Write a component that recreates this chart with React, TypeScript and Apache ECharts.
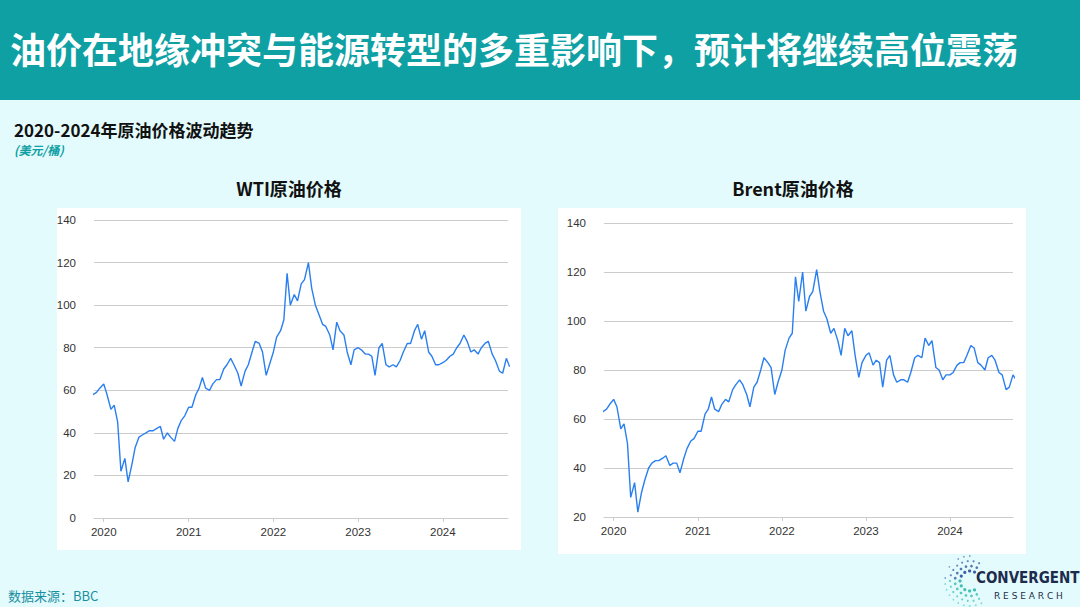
import React, { useEffect, useRef } from "react";
import * as echarts from "echarts";

// two readings per month (1st and 15th), Nov 2019 - Oct 2024
const startMonth = [2019, 10];
const wtiValues = [
  57, 58, 59, 61, 63, 58, 51, 53, 45, 22, 28, 17, 25, 33, 38, 39, 40, 41, 41, 42, 43, 37, 40, 38,
  36, 42, 46, 48, 52, 52, 58, 61, 66, 61, 60, 63, 65, 65, 70, 72, 75, 72, 68, 62, 69, 72, 78, 83,
  82, 78, 67, 72, 78, 85, 88, 93, 115, 100, 105, 102, 110, 112, 120, 108, 100, 96, 91, 90, 86, 79, 92, 88,
  86, 78, 72, 79, 80, 79, 77, 77, 76, 67, 80, 82, 72, 71, 72, 71, 74, 78, 82, 82, 88, 91, 84, 88,
  78, 76, 72, 72, 73, 74, 76, 77, 80, 82, 86, 83, 78, 79, 77, 80, 82, 83, 77, 74, 69, 68, 75, 71,
];
const brentValues = [
  62, 63, 64, 66, 68, 65, 56, 58, 50, 28, 34, 22, 30, 35, 40, 42, 43, 43, 44, 45, 41, 42, 42, 38,
  44, 48, 51, 52, 55, 55, 62, 64, 69, 64, 63, 66, 68, 67, 72, 74, 76, 74, 70, 65, 73, 75, 80, 85,
  83, 81, 70, 75, 80, 88, 93, 95, 118, 108, 120, 104, 110, 112, 121, 112, 104, 101, 95, 97, 92, 86, 97, 94,
  96, 86, 77, 83, 86, 87, 82, 84, 83, 73, 84, 86, 78, 75, 76, 76, 75, 79, 85, 86, 85, 93, 90, 92,
  81, 80, 76, 78, 78, 79, 82, 83, 83, 86, 90, 89, 83, 82, 80, 85, 86, 84, 79, 78, 72, 73, 78, 76,
];
const wtiTicks = [0, 20, 40, 60, 80, 100, 120, 140];
const brentTicks = [20, 40, 60, 80, 100, 120, 140];

const toSeries = (vals: number[]) =>
  vals.map((v, i) => {
    const m = startMonth[1] + Math.floor(i / 2);
    const d = new Date(startMonth[0], m, i % 2 === 0 ? 1 : 15);
    return [d.getTime(), v];
  });

const teal = "#0fa0a4";

const App = () => {
  const ref = useRef<HTMLDivElement>(null);

  useEffect(() => {
    if (!ref.current) return;
    const chart = echarts.init(ref.current, null, { renderer: "svg" });
    const xAxisBase = (gridIndex: number, min: string, max: string) => ({
      type: "time",
      gridIndex,
      min: new Date(min).getTime(),
      max: new Date(max).getTime(),
      splitNumber: 5,
      splitLine: { show: false },
      axisLine: { lineStyle: { color: "#ccc" } },
      axisTick: { show: true, length: 4, lineStyle: { color: "#ccc" } },
      axisLabel: {
        color: "#333",
        fontSize: 11.5,
        formatter: { year: "{yyyy}", month: "", day: "", hour: "", minute: "", second: "", millisecond: "" },
      },
    });
    const yAxisBase = (gridIndex: number, ticks: number[]) => ({
      type: "value",
      gridIndex,
      min: ticks[0],
      max: ticks[ticks.length - 1],
      interval: 20,
      axisLine: { show: false },
      axisTick: { show: false },
      splitLine: { lineStyle: { color: "#ccc" } },
      axisLabel: { color: "#333", fontSize: 11.5, margin: 18 },
    });
    const lineSeries = (idx: number, vals: number[]) => ({
      type: "line",
      xAxisIndex: idx,
      yAxisIndex: idx,
      data: toSeries(vals),
      showSymbol: false,
      lineStyle: { color: "#2a7ff0", width: 1.4 },
    });

    const dots: any[] = [];
    for (let r = 0; r < 4; r++) {
      const rad = 10 + r * 5;
      const n = 9 + r * 3;
      for (let k = 0; k < n; k++) {
        const a = Math.PI * 0.35 + (Math.PI * 1.3 * k) / (n - 1);
        const t = k / (n - 1);
        dots.push({
          type: "circle",
          shape: { cx: 970 + Math.cos(a) * rad, cy: 581 - Math.sin(a) * rad, r: 1.6 - r * 0.25 },
          style: { fill: t < 0.5 ? "#2b4f9e" : "#2fb8a8", opacity: 0.9 - r * 0.12 },
        });
      }
    }

    chart.setOption({
      animation: false,
      backgroundColor: "#e3fbfc",
      graphic: [
        { type: "rect", shape: { x: 0, y: 0, width: 1080, height: 100 }, style: { fill: teal } },
        {
          type: "text", x: 10, y: 48,
          style: { text: "油价在地缘冲突与能源转型的多重影响下，预计将继续高位震荡", fill: "#fff", font: "bold 36px 'Noto Sans CJK SC'", textVerticalAlign: "middle" },
        },
        {
          type: "text", x: 14, y: 129,
          style: { text: "2020-2024年原油价格波动趋势", fill: "#111", font: "bold 17px 'Noto Sans CJK SC'", textVerticalAlign: "middle" },
        },
        {
          type: "text", x: 14, y: 149,
          style: { text: "(美元/桶)", fill: teal, font: "italic bold 12px 'Noto Sans CJK SC'", textVerticalAlign: "middle" },
        },
        {
          type: "text", x: 289, y: 188,
          style: { text: "WTI原油价格", fill: "#111", font: "bold 18px 'Noto Sans CJK SC'", textAlign: "center", textVerticalAlign: "middle" },
        },
        {
          type: "text", x: 793, y: 188,
          style: { text: "Brent原油价格", fill: "#111", font: "bold 18px 'Noto Sans CJK SC'", textAlign: "center", textVerticalAlign: "middle" },
        },
        { type: "rect", z: -1, shape: { x: 57, y: 208, width: 464, height: 342 }, style: { fill: "#fff" } },
        { type: "rect", z: -1, shape: { x: 558, y: 208, width: 468, height: 346 }, style: { fill: "#fff" } },
        {
          type: "text", x: 8, y: 595,
          style: { text: "数据来源：BBC", fill: "#1a8fa0", font: "13px 'Noto Sans CJK SC'", textVerticalAlign: "middle" },
        },
        ...dots,
        {
          type: "text", x: 976, y: 578,
          style: { text: "CONVERGENT", fill: "#1d2b4c", font: "bold 15px 'DejaVu Sans Condensed'", textVerticalAlign: "middle" },
        },
        {
          type: "text", x: 994, y: 596,
          style: { text: "R E S E A R C H", fill: "#1d2b4c", font: "9px 'DejaVu Sans'", textVerticalAlign: "middle" },
        },
      ],
      grid: [
        { left: 94, top: 220, width: 414, height: 298 },
        { left: 604, top: 223, width: 409, height: 294 },
      ],
      xAxis: [
        xAxisBase(0, "2019-11-20", "2024-10-08"),
        xAxisBase(1, "2019-11-20", "2024-10-01"),
      ],
      yAxis: [yAxisBase(0, wtiTicks), yAxisBase(1, brentTicks)],
      series: [lineSeries(0, wtiValues), lineSeries(1, brentValues)],
    });
    return () => chart.dispose();
  }, []);

  return <div ref={ref} style={{ position: "fixed", left: 0, top: 0, width: 1080, height: 607 }} />;
};

export default App;
